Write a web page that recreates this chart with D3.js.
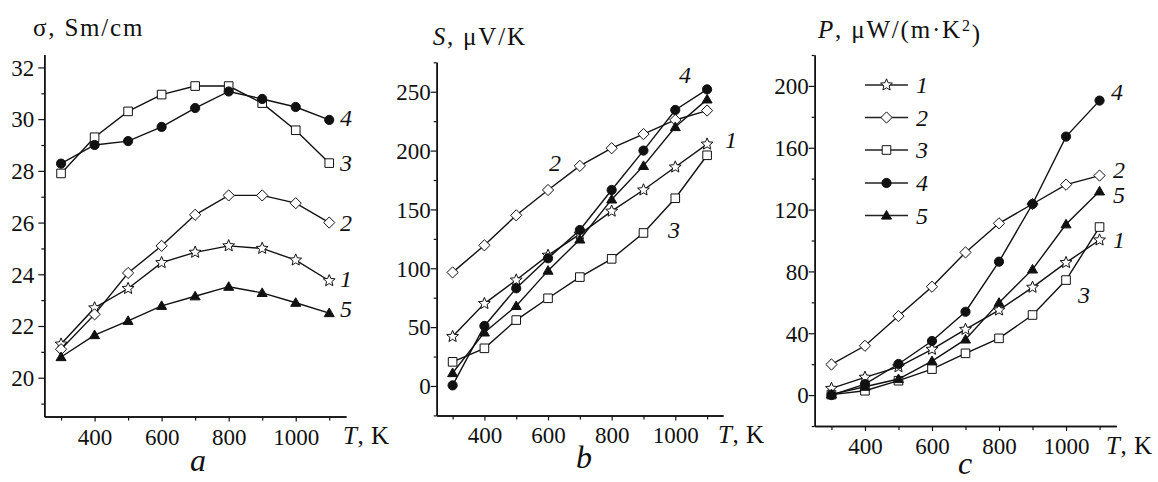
<!DOCTYPE html>
<html>
<head>
<meta charset="utf-8">
<script src="https://cdn.jsdelivr.net/npm/d3@7"></script>
<style>
  html, body { margin: 0; padding: 0; background: #fff; }
  svg { display: block; }
  svg text { font-family: "Liberation Serif", "Times New Roman", Tinos, serif; fill: #111; }
</style>
</head>
<body>
<svg id="chart" width="1158" height="482"></svg>
<script>
// Temperature points (K)
const temps = [300, 400, 500, 600, 700, 800, 900, 1000, 1100];
const xTicksMajor = [400, 600, 800, 1000];
const xTicksMinor = [300, 500, 700, 900, 1100];

// Electrical conductivity σ, Sm/cm
const sigma1 = [21.3, 22.7, 23.45, 24.45, 24.85, 25.1, 25.0, 24.55, 23.75];
const sigma2 = [21.1, 22.45, 24.05, 25.1, 26.3, 27.05, 27.05, 26.75, 26.0];
const sigma3 = [27.9, 29.3, 30.3, 30.95, 31.28, 31.28, 30.62, 29.57, 28.3];
const sigma4 = [28.28, 29.0, 29.15, 29.7, 30.43, 31.07, 30.78, 30.47, 29.97];
const sigma5 = [20.8, 21.65, 22.2, 22.78, 23.15, 23.52, 23.28, 22.9, 22.5];

// Seebeck coefficient S, μV/K
const seebeck1 = [42, 70, 90, 111, 129, 148.5, 166.5, 186, 205.5];
const seebeck2 = [96.5, 119.5, 145, 166.5, 187, 202, 214, 226, 234];
const seebeck3 = [20.5, 32, 56, 74.5, 92.5, 108, 130, 159.5, 196];
const seebeck4 = [0.5, 51, 83, 108.5, 132.5, 166.5, 200, 234.5, 252];
const seebeck5 = [11, 45.5, 68, 98, 124.5, 158.5, 187, 220, 243.5];

// Power factor P, μW/(m·K²)
const power1 = [4.3, 11.5, 18.3, 29.6, 42.5, 55, 69.7, 85.7, 100.3];
const power2 = [19.8, 31.9, 51.1, 70.1, 92.3, 111.1, 123.6, 136.1, 142.0];
const power3 = [0.3, 2.8, 9.3, 16.8, 27, 36.7, 51.8, 74.4, 108.7];
const power4 = [0, 7.1, 20.1, 35, 53.9, 86.3, 123.6, 167.2, 190.5];
const power5 = [0.5, 5.4, 10.4, 22, 36, 59.8, 81.3, 110.5, 131.8];

const seriesNames = ["1", "2", "3", "4", "5"];

const FONT = '"Liberation Serif", "Times New Roman", Tinos, serif';
const svg = d3.select("#chart");

// Marker shapes (custom symbol types)
const starType = {
  draw(ctx, size) {
    const R = Math.sqrt(size) * 0.62, r = R * 0.45;
    for (let i = 0; i < 10; i++) {
      const rad = i % 2 === 0 ? R : r;
      const a = -Math.PI / 2 + i * Math.PI / 5;
      const px = rad * Math.cos(a), py = rad * Math.sin(a);
      if (i === 0) ctx.moveTo(px, py); else ctx.lineTo(px, py);
    }
    ctx.closePath();
  }
};
const diamondType = {
  draw(ctx, size) {
    const h = Math.sqrt(size) * 0.56;
    ctx.moveTo(0, -h); ctx.lineTo(h, 0); ctx.lineTo(0, h); ctx.lineTo(-h, 0); ctx.closePath();
  }
};
const squareType = {
  draw(ctx, size) {
    const h = Math.sqrt(size) * 0.43;
    ctx.rect(-h, -h, 2 * h, 2 * h);
  }
};
const circleType = {
  draw(ctx, size) {
    const r = Math.sqrt(size) * 0.46;
    ctx.moveTo(r, 0); ctx.arc(0, 0, r, 0, 2 * Math.PI);
  }
};
const triangleType = {
  draw(ctx, size) {
    const s = Math.sqrt(size);
    const w = s * 0.5, up = s * 0.5, dn = s * 0.36;
    ctx.moveTo(0, -up); ctx.lineTo(w, dn); ctx.lineTo(-w, dn); ctx.closePath();
  }
};
const markerStyles = [
  { type: starType, fill: "#fff" },
  { type: diamondType, fill: "#fff" },
  { type: squareType, fill: "#fff" },
  { type: circleType, fill: "#111" },
  { type: triangleType, fill: "#111" }
];
const markerSize = 100;

// Panel layouts
const panels = [
  {
    data: [sigma1, sigma2, sigma3, sigma4, sigma5],
    xRange: [44.3, 346], yDomain: [18.5, 32.5], yRange: [416.5, 54.5],
    yMajor: [20, 22, 24, 26, 28, 30, 32], yMinor: [19, 21, 23, 25, 27, 29, 31],
    yPad: 4,
    title: { x: 33, y: 36, parts: [["σ, Sm/cm", "normal"]] },
    axisLabel: { x: 343, y: 444 },
    letter: { text: "a", x: 198, y: 471 },
    labels: [["4", 340, 118], ["3", 340, 163], ["2", 340, 222.5], ["1", 340, 279], ["5", 340, 309]]
  },
  {
    data: [seebeck1, seebeck2, seebeck3, seebeck4, seebeck5],
    xRange: [436.7, 723], yDomain: [-25, 275], yRange: [415.4, 62.3],
    yMajor: [0, 50, 100, 150, 200, 250], yMinor: [-25, 25, 75, 125, 175, 225, 275],
    yPad: 0,
    title: { x: 432.7, y: 45, parts: [["S", "italic"], [", μV/K", "normal"]] },
    axisLabel: { x: 718, y: 443 },
    letter: { text: "b", x: 584, y: 468 },
    labels: [["2", 549, 163], ["4", 679, 75], ["1", 725, 140], ["3", 668, 230]]
  },
  {
    data: [power1, power2, power3, power4, power5],
    xRange: [814.7, 1116.3], yDomain: [-20, 220], yRange: [426, 55],
    yMajor: [0, 40, 80, 120, 160, 200], yMinor: [-20, 20, 60, 100, 140, 180, 220],
    yPad: 0,
    title: { x: 818, y: 38, parts: [["P", "italic"], [", μW/(m·K", "normal"], ["2", "sup"], [")", "normal"]] },
    axisLabel: { x: 1106, y: 454 },
    letter: { text: "c", x: 965, y: 474 },
    labels: [["4", 1111, 92], ["2", 1113, 170], ["5", 1113, 195], ["1", 1113, 240], ["3", 1078, 295]],
    legend: { x0: 865, x1: 908, xm: 886.5, xt: 916, ys: [85, 117.5, 150, 183, 215.5] }
  }
];

const tickFont = 23;
const titleFont = 25;

panels.forEach(p => {
  const x = d3.scaleLinear().domain([250, 1150]).range(p.xRange);
  const y = d3.scaleLinear().domain(p.yDomain).range(p.yRange);
  const g = svg.append("g").attr("font-family", FONT);
  const x0 = p.xRange[0], yb = p.yRange[0];

  // Axes: minor ticks first, then labelled majors
  const xMinorAxis = d3.axisBottom(x).tickValues(xTicksMinor).tickSize(4).tickSizeOuter(0).tickFormat("");
  const xMajorAxis = d3.axisBottom(x).tickValues(xTicksMajor).tickSize(5).tickSizeOuter(0).tickFormat(d3.format("d"));
  const yMinorAxis = d3.axisLeft(y).tickValues(p.yMinor).tickSize(3).tickSizeOuter(0).tickFormat("");
  const yMajorAxis = d3.axisLeft(y).tickValues(p.yMajor).tickSize(6).tickSizeOuter(0).tickPadding(p.yPad).tickFormat(d3.format("d"));

  const styleAxis = a => {
    a.attr("font-family", FONT).attr("font-size", tickFont);
    a.select(".domain").attr("stroke", "#111").attr("stroke-width", 1.5);
    a.selectAll(".tick line").attr("stroke", "#111").attr("stroke-width", 1.2);
    a.selectAll(".tick text").attr("fill", "#111");
  };
  [xMinorAxis, xMajorAxis].forEach(ax => {
    const a = g.append("g").attr("transform", `translate(0,${yb})`).call(ax);
    styleAxis(a);
    a.selectAll(".tick text").attr("y", 28).attr("dy", null);
  });
  [yMinorAxis, yMajorAxis].forEach(ax => {
    const a = g.append("g").attr("transform", `translate(${x0},0)`).call(ax);
    styleAxis(a);
    a.selectAll(".tick text").attr("dy", "0.34em");
  });

  // Curves
  const line = d3.line().x((d, i) => x(temps[i])).y(d => y(d));
  p.data.forEach((vals, si) => {
    const s = g.append("g");
    s.append("path").datum(vals).attr("d", line)
      .attr("fill", "none").attr("stroke", "#111").attr("stroke-width", 1.4);
    const sym = d3.symbol().type(markerStyles[si].type).size(markerSize);
    s.selectAll("path.mk").data(vals).join("path").attr("class", "mk")
      .attr("d", sym)
      .attr("transform", (d, i) => `translate(${x(temps[i])},${y(d)})`)
      .attr("fill", markerStyles[si].fill).attr("stroke", "#111").attr("stroke-width", 1);
  });

  // Curve numbers
  p.labels.forEach(([t, lx, ly]) => {
    g.append("text").attr("x", lx).attr("y", ly).attr("dy", "0.35em")
      .attr("font-size", 24).attr("font-style", "italic").text(t);
  });

  // Y-axis title
  const tt = g.append("text").attr("x", p.title.x).attr("y", p.title.y)
    .attr("font-size", titleFont).attr("letter-spacing", 1.8);
  p.title.parts.forEach(([t, st], k) => {
    const prev = k > 0 ? p.title.parts[k - 1][1] : null;
    const ts = tt.append("tspan").text(t);
    if (st === "sup") ts.attr("dy", "-0.45em").attr("font-size", 16);
    else {
      ts.attr("font-style", st === "italic" ? "italic" : "normal");
      if (prev === "sup") ts.attr("dy", "0.45em").attr("font-size", titleFont);
    }
  });

  // X-axis title
  const xt = g.append("text").attr("x", p.axisLabel.x).attr("y", p.axisLabel.y)
    .attr("font-size", 25).attr("letter-spacing", 0.5);
  xt.append("tspan").attr("font-style", "italic").text("T");
  xt.append("tspan").text(", K");

  // Panel letter
  g.append("text").attr("x", p.letter.x).attr("y", p.letter.y).attr("text-anchor", "middle")
    .attr("font-size", 32).attr("font-style", "italic").text(p.letter.text);

  // Legend
  if (p.legend) {
    const L = p.legend;
    seriesNames.forEach((name, si) => {
      const ly = L.ys[si];
      g.append("line").attr("x1", L.x0).attr("x2", L.x1).attr("y1", ly).attr("y2", ly)
        .attr("stroke", "#222").attr("stroke-width", 1.3);
      g.append("path").attr("d", d3.symbol().type(markerStyles[si].type).size(markerSize)())
        .attr("transform", `translate(${L.xm},${ly})`)
        .attr("fill", markerStyles[si].fill).attr("stroke", "#111").attr("stroke-width", 1);
      g.append("text").attr("x", L.xt).attr("y", ly).attr("dy", "0.35em")
        .attr("font-size", 24).attr("font-style", "italic").text(name);
    });
  }
});
</script>
</body>
</html>
